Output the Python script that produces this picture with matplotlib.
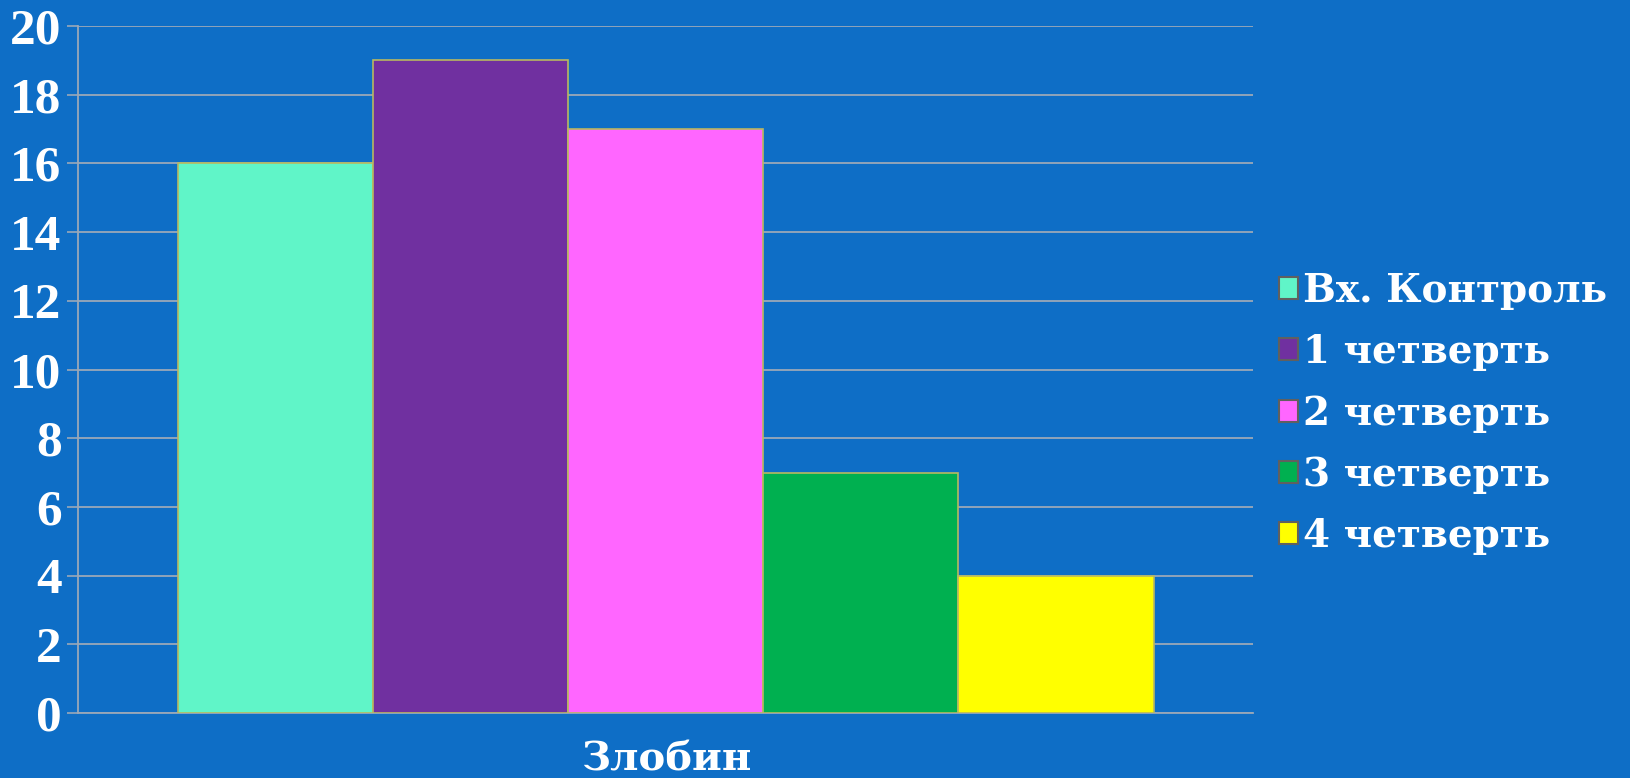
import numpy as np
import matplotlib.pyplot as plt

category = "Злобин"
series = ["Вх. Контроль", "1 четверть", "2 четверть", "3 четверть", "4 четверть"]
values = [16, 19, 17, 7, 4]
colors = ["#60F5C8", "#7030A0", "#FF66FF", "#00B050", "#FFFF00"]
yticks = [0, 2, 4, 6, 8, 10, 12, 14, 16, 18, 20]

bg = "#0E6EC6"
plt.rcParams['font.family'] = ['Liberation Serif', 'DejaVu Serif']
wide = ['DejaVu Serif']

fig = plt.figure(figsize=(16.3, 7.78), dpi=100, facecolor=bg)
ax = fig.add_axes([0.048, 0.0835, 0.721, 0.883], facecolor=bg)

w = 0.166
n = len(values)
x = (np.arange(n) - (n - 1) / 2) * w
for xi, v, c, s in zip(x, values, colors, series):
    ax.bar(xi, v, width=w, color=c, edgecolor="#B8B860", linewidth=1.2, label=s, zorder=3)

ax.set_xlim(-0.5, 0.5)
ax.set_ylim(0, 20)
ax.set_yticks(yticks)
ax.set_yticklabels([str(t) for t in yticks], fontsize=37, fontweight='bold', color='white')
ax.yaxis.grid(True, color="#9AA8B8", linewidth=1.3, zorder=0)
ax.set_xticks([0])
ax.set_xticklabels([category], fontsize=29, fontweight='bold', color='white', family=wide)
ax.tick_params(axis='x', length=0, pad=20)
ax.tick_params(axis='y', length=8, width=1.2, color="#9AA8B8", pad=4)
for side in ['top', 'right']:
    ax.spines[side].set_visible(False)
for side in ['left', 'bottom']:
    ax.spines[side].set_color("#9AA8B8")
    ax.spines[side].set_linewidth(1.3)

leg = ax.legend(loc='center left', bbox_to_anchor=(1.0, 0.436), frameon=False,
                prop={'weight': 'bold', 'size': 28, 'family': wide},
                handlelength=0.5, handleheight=0.5, handletextpad=0.12,
                labelspacing=0.6, borderaxespad=0.25)
for t in leg.get_texts():
    t.set_color('white')
for h in leg.legend_handles:
    h.set_edgecolor("#606060")
    h.set_linewidth(1.5)

fig.savefig("out.png", dpi=100, facecolor=bg)
